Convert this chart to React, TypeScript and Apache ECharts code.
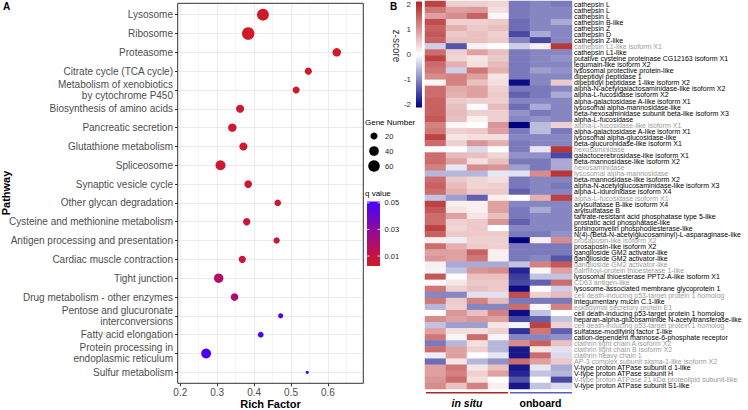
import React, { useEffect, useRef } from "react";
import * as echarts from "echarts";

// ---------------- Panel A data ----------------
const pathways = [
  "Lysosome",
  "Ribosome",
  "Proteasome",
  "Citrate cycle (TCA cycle)",
  "Metabolism of xenobiotics\nby cytochrome P450",
  "Biosynthesis of amino acids",
  "Pancreatic secretion",
  "Glutathione metabolism",
  "Spliceosome",
  "Synaptic vesicle cycle",
  "Other glycan degradation",
  "Cysteine and methionine metabolism",
  "Antigen processing and presentation",
  "Cardiac muscle contraction",
  "Tight junction",
  "Drug metabolism - other enzymes",
  "Pentose and glucuronate\ninterconversions",
  "Fatty acid elongation",
  "Protein processing in\nendoplasmic reticulum",
  "Sulfur metabolism",
];
const richFactor = [0.424, 0.384, 0.624, 0.547, 0.514, 0.362, 0.341, 0.371, 0.309, 0.384, 0.464, 0.38, 0.461, 0.368, 0.304, 0.347, 0.472, 0.418, 0.27, 0.544];
const geneNumber = [64, 72, 30, 20, 20, 27, 30, 27, 44, 24, 17, 22, 16, 21, 38, 24, 10, 13, 42, 5];
const qValue = [0.0025, 0.0025, 0.0025, 0.003, 0.003, 0.004, 0.004, 0.004, 0.005, 0.005, 0.005, 0.006, 0.006, 0.007, 0.018, 0.02, 0.046, 0.047, 0.049, 0.051];

const xTickValues = [0.2, 0.3, 0.4, 0.5, 0.6];
const geneLegend = [20, 40, 60];
const qLegend = [0.05, 0.03, 0.01];

// ---------------- Panel B data ----------------
const samples = ["in situ 1", "in situ 2", "in situ 3", "in situ 4", "onboard 1", "onboard 2", "onboard 3"];
const groupNames = ["in situ", "onboard"];
const zLegend = [2, 1, 0, -1, -2];
const geneLabels = [
  "cathepsin L",
  "cathepsin L",
  "cathepsin L",
  "cathepsin B-like",
  "cathepsin Z",
  "cathepsin D",
  "cathepsin Z-like",
  "cathepsin L1-like isoform X1",
  "cathepsin L1-like",
  "putative cysteine proteinase CG12163 isoform X1",
  "legumain-like isoform X2",
  "lysosomal protective protein-like",
  "dipeptidyl peptidase 1",
  "dipeptidyl peptidase 1-like isoform X2",
  "alpha-N-acetylgalactosaminidase-like isoform X2",
  "alpha-L-fucosidase isoform X2",
  "alpha-galactosidase A-like isoform X1",
  "lysosomal alpha-mannosidase-like",
  "beta-hexosaminidase subunit beta-like isoform X3",
  "alpha-L-fucosidase",
  "alpha-L-fucosidase-like isoform X1",
  "alpha-galactosidase A-like isoform X1",
  "lysosomal alpha-glucosidase-like",
  "beta-glucuronidase-like isoform X1",
  "hexosaminidase",
  "galactocerebrosidase-like isoform X1",
  "beta-mannosidase-like isoform X2",
  "hexosaminidase",
  "lysosomal alpha-mannosidase",
  "beta-mannosidase-like isoform X2",
  "alpha-N-acetylglucosaminidase-like isoform X3",
  "alpha-L-iduronidase isoform X4",
  "alpha-L-fucosidase isoform X1",
  "arylsulfatase B-like isoform X4",
  "arylsulfatase B",
  "tartrate-resistant acid phosphatase type 5-like",
  "prostatic acid phosphatase-like",
  "sphingomyelin phosphodiesterase-like",
  "N(4)-(Beta-N-acetylglucosaminyl)-L-asparaginase-like",
  "prosaposin-like isoform X2",
  "prosaposin-like isoform X2",
  "ganglioside GM2 activator-like",
  "ganglioside GM2 activator-like",
  "ganglioside GM2 activator-like",
  "palmitoyl-protein thioesterase 1-like",
  "lysosomal thioesterase PPT2-A-like isoform X1",
  "CD63 antigen-like",
  "lysosome-associated membrane glycoprotein 1",
  "cell death-inducing p53-target protein 1 homolog",
  "integumentary mucin C.1-like",
  "epididymal secretory protein E1",
  "cell death-inducing p53-target protein 1 homolog",
  "heparan-alpha-glucosaminide N-acetyltransferase-like",
  "cell death-inducing p53-target protein 1 homolog",
  "sulfatase-modifying factor 1-like",
  "cation-dependent mannose-6-phosphate receptor",
  "clathrin light chain A isoform X2",
  "clathrin light chain B isoform X2",
  "clathrin heavy chain 1",
  "AP-3 complex subunit sigma-1-like isoform X2",
  "V-type proton ATPase subunit d 1-like",
  "V-type proton ATPase subunit H",
  "V-type proton ATPase 21 kDa proteolipid subunit-like",
  "V-type proton ATPase subunit S1-like",
];
const grayRows = [7, 20, 24, 27, 28, 32, 39, 43, 44, 46, 48, 50, 53, 56, 57, 58, 59, 62];
const zScores = [
  [1.8, 0.45, 0.45, 0.4, -1.1, -1.0, -1.1],
  [1.3, 0.9, 0.95, 0.3, -1.1, -1.0, -1.0],
  [0.9, 1.1, 1.5, 0.08, -1.1, -1.0, -1.0],
  [1.7, 0.45, 0.45, 0.5, -1.2, -1.0, -0.7],
  [1.5, 0.75, 0.5, 0.6, -1.2, -1.0, -1.0],
  [1.6, 0.5, 0.6, 0.45, -1.5, -0.7, -1.0],
  [1.5, 0.6, 0.6, 0.5, -1.0, -1.5, -1.0],
  [-0.4, -1.4, -0.1, 0.0, -0.4, 0.15, 1.9],
  [1.4, 0.45, 0.9, 0.6, -1.1, -1.0, -1.0],
  [1.8, 0.4, 0.25, 0.5, -1.1, -1.0, -0.9],
  [1.4, 0.75, 0.3, 0.65, -1.1, -1.0, -1.0],
  [1.3, -0.4, 1.3, 0.75, -1.1, -0.8, -0.9],
  [1.1, 1.2, 0.9, 0.25, -1.1, -1.0, -1.0],
  [0.08, 1.2, 0.6, 0.3, -2.0, -1.0, 0.5],
  [1.4, 0.8, 0.9, 0.45, -1.1, -1.1, -1.0],
  [1.4, 0.75, 0.9, 0.5, -1.3, -1.1, -0.7],
  [1.5, 0.5, 0.45, 0.45, -1.0, -1.0, -1.0],
  [1.5, 0.6, 0.03, 0.65, -1.2, -0.7, -1.0],
  [1.5, 0.65, 0.45, 0.45, -0.9, -1.1, -1.0],
  [1.6, 0.6, 0.15, 0.45, -1.0, -0.9, -1.0],
  [1.2, 0.08, 0.0, 1.0, -2.1, -0.55, 0.45],
  [1.3, 0.45, 0.5, 0.9, -1.1, -0.55, -1.1],
  [1.8, 0.25, 0.3, 0.3, -1.0, -1.0, -1.0],
  [1.4, 0.45, 1.0, 0.75, -1.1, -1.0, -1.0],
  [0.03, 0.0, -0.3, 0.0, -1.1, -0.2, 1.9],
  [1.4, 0.65, 0.6, 0.4, -0.9, -0.9, -1.5],
  [1.4, 0.9, 0.3, 0.6, -1.1, -1.1, -0.7],
  [1.2, -0.2, 1.1, 1.0, -0.8, -1.1, -0.7],
  [-0.6, -0.6, -0.6, -0.2, -0.25, 1.1, 1.9],
  [1.4, 0.5, 0.4, 0.3, -1.1, -1.0, -1.0],
  [1.5, 0.65, 0.4, 0.45, -1.1, -1.0, -1.1],
  [1.4, 0.75, 0.5, 0.5, -1.3, -1.0, -1.0],
  [-0.5, -0.8, -1.3, 0.15, 0.0, 0.75, 1.8],
  [1.8, 0.15, 0.15, 0.9, -1.0, -1.0, -1.0],
  [1.6, 0.25, 0.15, 0.9, -1.1, -0.7, -1.0],
  [1.4, 0.9, 0.25, 0.6, -1.1, -1.0, -1.0],
  [1.4, 0.45, 0.5, 1.0, -1.3, -1.0, -1.0],
  [1.8, 0.4, 0.5, 0.0, -1.0, -1.0, -1.0],
  [1.5, 0.5, 0.5, 0.5, -1.1, -1.1, -0.9],
  [0.15, -0.15, 0.45, 0.45, -2.1, 0.15, 1.1],
  [1.4, 0.75, 0.5, 0.45, -1.1, -1.1, -1.1],
  [0.9, 0.9, 1.5, 0.15, -1.1, -1.1, -1.1],
  [1.0, 0.9, 1.3, 0.15, -1.1, -1.0, -1.4],
  [0.15, -0.7, -0.7, -0.7, -0.5, 1.2, 1.6],
  [-0.1, -0.5, 1.0, 1.1, -1.8, 0.08, 0.9],
  [1.6, 0.0, 0.6, 0.6, -1.6, -0.5, -0.5],
  [-0.05, 0.25, 0.5, 0.5, -1.5, -1.3, 1.4],
  [1.3, 0.45, 0.6, 0.5, -2.0, 0.0, -0.4],
  [-1.0, -1.0, -0.25, -0.25, 1.7, 0.45, 0.65],
  [1.3, 0.5, 1.2, 0.65, -1.1, -1.1, -1.1],
  [-0.6, 0.45, -1.0, -1.0, 1.4, 0.08, 1.2],
  [0.03, 1.0, 0.6, 1.2, -2.0, -0.5, 0.0],
  [1.1, 0.9, 1.0, 0.9, -1.5, -1.3, -0.5],
  [-0.5, -0.8, -0.8, 0.25, -0.1, 1.8, 0.45],
  [0.9, 0.3, 0.3, 0.45, -1.7, 1.3, -1.3],
  [1.3, 0.08, 1.4, 0.08, -1.0, -1.0, -0.9],
  [-1.1, -0.6, 0.3, -0.6, 1.1, 1.5, 0.6],
  [1.4, 0.9, 0.45, -0.6, -1.9, 0.25, -0.25],
  [-0.15, 0.9, 0.0, -0.2, -1.9, 1.4, -0.3],
  [-1.2, 0.25, -0.6, -0.9, 1.4, 0.9, 0.5],
  [0.9, 1.3, 0.25, 0.6, -1.9, -0.2, -0.7],
  [0.9, 1.2, 0.45, 0.9, -1.8, -0.5, -0.6],
  [1.0, 1.4, 0.3, 0.0, -1.4, 0.0, -1.5],
  [1.1, 0.6, 1.2, 0.15, -1.9, -0.5, -0.3],
];

// ---------------- styling / layout ----------------
const FONT = "'Liberation Sans', Arial, Helvetica, sans-serif";
const X_MIN = 0.1938;
const X_MAX = 0.6967;
const Q_MIN = 0.0025;
const Q_MAX = 0.051;
const Z_MIN = -2.1;
const Z_MAX = 2.1;
const Q_COLORS = ["#D11A28", "#BC1058", "#9A0A8E", "#6E08C6", "#4400FF"];
const Z_COLORS = ["#000080", "#FFFFFF", "#B22222"];

const sizeOf = (n: number) => 2 + 10.5 * Math.sqrt(Math.max(n - 4, 0) / 68);

export default function App() {
  const ref = useRef<HTMLDivElement>(null);

  useEffect(() => {
    document.body.style.margin = "0";
    if (!ref.current) return;
    const chart = echarts.init(ref.current, undefined, { renderer: "svg" });

    const scatterData = pathways.map((_, i) => [richFactor[i], i, qValue[i], geneNumber[i]]);
    const heatData: number[][] = [];
    zScores.forEach((row, r) => row.forEach((v, c) => heatData.push([c, r, v])));
    const graySet = new Set(grayRows);

    // legend geometry
    const qBarTop = 201.5, qBarH = 64.5, qBarX = 367, qBarW = 13;
    const qY = (q: number) => qBarTop + ((Q_MAX - q) / (Q_MAX - Q_MIN)) * qBarH;
    const zBarTop = 1.5, zBarH = 106, zBarX = 416, zBarW = 6;
    const zY = (z: number) => zBarTop + ((Z_MAX - z) / (Z_MAX - Z_MIN)) * zBarH;
    const geneY = [136, 151, 166];

    const graphics: any[] = [
      { type: "text", x: 3, y: 1, style: { text: "A", font: `bold 10px ${FONT}`, fill: "#000" } },
      { type: "text", x: 390, y: 1, style: { text: "B", font: `bold 10px ${FONT}`, fill: "#000" } },
      {
        type: "rect", z: 100, silent: true,
        shape: { x: 177.7, y: 3.3, width: 185.6, height: 380 },
        style: { fill: "none", stroke: "#333333", lineWidth: 1 },
      },
      {
        type: "text", x: 6, y: 193, rotation: Math.PI / 2,
        style: { text: "Pathway", font: `bold 11px ${FONT}`, fill: "#000", align: "center", verticalAlign: "middle" },
      },
      {
        type: "text", x: 270.5, y: 404,
        style: { text: "Rich Factor", font: `bold 11px ${FONT}`, fill: "#000", align: "center", verticalAlign: "middle" },
      },
      // Gene Number legend
      { type: "text", x: 365, y: 122, style: { text: "Gene Number", font: `8px ${FONT}`, fill: "#000", verticalAlign: "middle" } },
      ...geneLegend.flatMap((g, i) => [
        { type: "circle", shape: { cx: 374, cy: geneY[i], r: sizeOf(g) / 2 }, style: { fill: "#000" } },
        { type: "text", x: 385, y: geneY[i], style: { text: String(g), font: `7.5px ${FONT}`, fill: "#222", verticalAlign: "middle" } },
      ]),
      // q value legend
      { type: "text", x: 365, y: 193, style: { text: "q value", font: `8px ${FONT}`, fill: "#000", verticalAlign: "middle" } },
      {
        type: "rect",
        shape: { x: qBarX, y: qBarTop, width: qBarW, height: qBarH },
        style: {
          fill: new echarts.graphic.LinearGradient(0, 0, 0, 1,
            Q_COLORS.slice().reverse().map((c, i, a) => ({ offset: i / (a.length - 1), color: c }))),
        },
      },
      ...qLegend.flatMap((q) => [
        { type: "line", shape: { x1: qBarX, y1: qY(q), x2: qBarX + 2.5, y2: qY(q) }, style: { stroke: "#fff", lineWidth: 0.8 } },
        { type: "line", shape: { x1: qBarX + qBarW - 2.5, y1: qY(q), x2: qBarX + qBarW, y2: qY(q) }, style: { stroke: "#fff", lineWidth: 0.8 } },
        { type: "text", x: 384.5, y: qY(q), style: { text: q.toFixed(2), font: `7.5px ${FONT}`, fill: "#222", verticalAlign: "middle" } },
      ]),
      // z-score legend
      {
        type: "rect",
        shape: { x: zBarX, y: zBarTop, width: zBarW, height: zBarH },
        style: {
          fill: new echarts.graphic.LinearGradient(0, 0, 0, 1,
            Z_COLORS.slice().reverse().map((c, i, a) => ({ offset: i / (a.length - 1), color: c }))),
        },
      },
      ...zLegend.map((z) => ({
        type: "text", x: 411, y: zY(z),
        style: { text: String(z), font: `8px ${FONT}`, fill: "#333", align: "right", verticalAlign: "middle" },
      })),
      {
        type: "text", x: 396, y: 46, rotation: -Math.PI / 2,
        style: { text: "z-score", font: `10px ${FONT}`, fill: "#333", align: "center", verticalAlign: "middle" },
      },
      // group bars and names
      { type: "line", shape: { x1: 426, y1: 392.7, x2: 508, y2: 392.7 }, style: { stroke: "#B22222", lineWidth: 1.6 } },
      { type: "line", shape: { x1: 510, y1: 392.7, x2: 572, y2: 392.7 }, style: { stroke: "#5B5BC8", lineWidth: 1.6 } },
      {
        type: "text", x: 467, y: 403,
        style: { text: groupNames[0], font: `italic bold 10.5px ${FONT}`, fill: "#000", align: "center", verticalAlign: "middle" },
      },
      {
        type: "text", x: 540.5, y: 403,
        style: { text: groupNames[1], font: `bold 10.5px ${FONT}`, fill: "#000", align: "center", verticalAlign: "middle" },
      },
    ];

    const option: any = {
      animation: false,
      textStyle: { fontFamily: FONT },
      grid: [
        { left: 178, top: 3.3, width: 185.6, height: 380 },
        { left: 178, top: 14.7, width: 185.6, height: 357.6 },
        { left: 425, top: 1, width: 147, height: 388 },
      ],
      xAxis: [
        {
          type: "value", gridIndex: 0, min: X_MIN, max: X_MAX, splitNumber: 5,
          axisLine: { show: false },
          axisTick: { show: true, length: 3, lineStyle: { color: "#333" }, customValues: xTickValues },
          axisLabel: {
            fontSize: 10, color: "#4D4D4D", margin: 4,
            customValues: xTickValues, formatter: (v: number) => v.toFixed(1),
          },
          splitLine: { show: true, lineStyle: { color: "#EBEBEB", width: 1 } },
          minorTick: { show: false, splitNumber: 2 },
          minorSplitLine: { show: true, lineStyle: { color: "#EFEFEF", width: 0.7 } },
        },
        { type: "value", gridIndex: 1, min: X_MIN, max: X_MAX, show: false },
        { type: "category", gridIndex: 2, data: samples, show: false },
      ],
      yAxis: [
        { type: "value", gridIndex: 0, min: 0, max: 1, show: false },
        {
          type: "category", gridIndex: 1, data: pathways, inverse: true, boundaryGap: false,
          axisLine: { show: false },
          axisTick: { show: true, length: 3, lineStyle: { color: "#333" } },
          axisLabel: { fontSize: 10, color: "#4D4D4D", margin: 5, lineHeight: 11, interval: 0 },
          splitLine: { show: true, lineStyle: { color: "#EBEBEB", width: 1 } },
        },
        {
          type: "category", gridIndex: 2, inverse: true, position: "right",
          data: geneLabels.map((g, i) => ({ value: g, textStyle: { color: graySet.has(i) ? "#9A9A9A" : "#000" } })),
          axisLine: { show: false },
          axisTick: { show: false },
          axisLabel: { fontSize: 7, margin: 2, interval: 0, lineHeight: 6 },
          splitLine: { show: false },
        },
      ],
      visualMap: [
        {
          type: "continuous", show: false, seriesIndex: 0, dimension: 2,
          min: Q_MIN, max: Q_MAX, inRange: { color: Q_COLORS },
        },
        {
          type: "continuous", show: false, seriesIndex: 1, dimension: 2,
          min: Z_MIN, max: Z_MAX, inRange: { color: Z_COLORS },
        },
      ],
      series: [
        {
          type: "scatter", xAxisIndex: 1, yAxisIndex: 1, data: scatterData,
          symbolSize: (v: number[]) => sizeOf(v[3]),
          itemStyle: { opacity: 1 }, emphasis: { disabled: true }, z: 3,
        },
        {
          type: "heatmap", xAxisIndex: 2, yAxisIndex: 2, data: heatData,
          itemStyle: { borderWidth: 0 }, emphasis: { disabled: true },
        },
      ],
      graphic: graphics,
    };

    chart.setOption(option);
    return () => chart.dispose();
  }, []);

  return <div ref={ref} style={{ width: 748, height: 410, position: "absolute", left: 0, top: 0 }} />;
}
